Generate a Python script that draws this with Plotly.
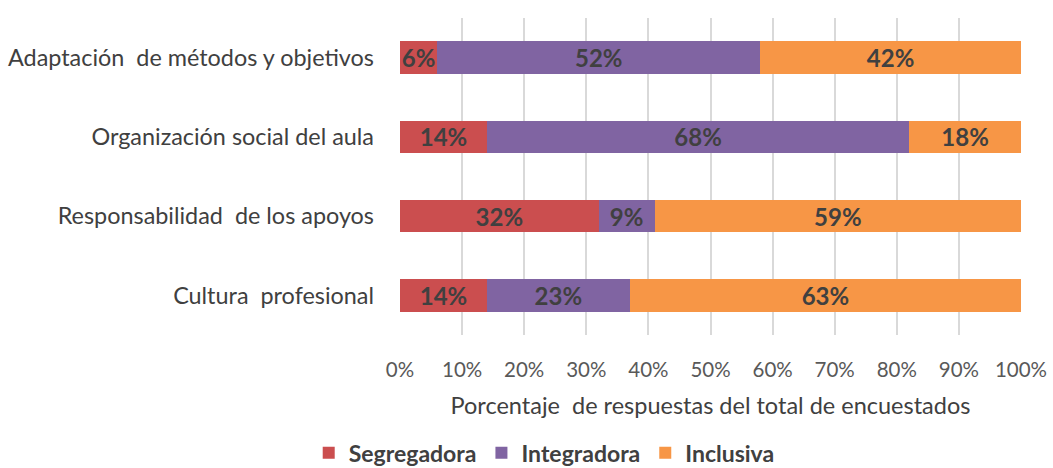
import plotly.graph_objects as go

categories = ["Adaptación  de métodos y objetivos", "Organización social del aula",
              "Responsabilidad  de los apoyos", "Cultura  profesional"]
segregadora = [6, 14, 32, 14]
integradora = [52, 68, 9, 23]
inclusiva = [42, 18, 59, 63]
series_names = ["Segregadora", "Integradora", "Inclusiva"]
colors = ["#CB4E4F", "#8064A2", "#F79646"]
x_ticks = [0, 10, 20, 30, 40, 50, 60, 70, 80, 90, 100]

FONT = "Lato, 'Open Sans', sans-serif"

fig = go.Figure()
for name, vals, col in zip(series_names, [segregadora, integradora, inclusiva], colors):
    fig.add_trace(go.Bar(
        y=categories, x=vals, name=name, orientation="h",
        marker=dict(color=col, line=dict(width=0)),
        text=[f"{v}%" for v in vals], textposition="inside",
        insidetextanchor="middle", constraintext="none",
        textfont=dict(family=FONT, size=24, color="#404040", weight="bold"),
    ))

fig.update_layout(
    barmode="stack", bargap=0.59,
    width=1053, height=468,
    margin=dict(l=400, r=32, t=18, b=133, autoexpand=False),
    paper_bgcolor="white", plot_bgcolor="white",
    font=dict(family=FONT, color="#404040"),
    legend=dict(orientation="h", x=-0.147, xanchor="left", y=-0.372, yanchor="middle",
                font=dict(size=23, color="#404040", weight="bold"),
                itemwidth=30, traceorder="normal", tracegroupgap=0),
    xaxis=dict(range=[0, 100], tickvals=x_ticks, ticktext=[f"{t}%" for t in x_ticks],
               showgrid=True, gridcolor="#D9D9D9", gridwidth=2, zeroline=False,
               automargin=False,
               tickfont=dict(size=20.5, color="#595959"), ticks="", ticklabelstandoff=20,
               title=dict(text="Porcentaje  de respuestas del total de encuestados",
                          font=dict(size=23.5, color="#404040"), standoff=18)),
    yaxis=dict(autorange="reversed", showgrid=False, ticks="", automargin=False,
               tickfont=dict(size=23.4, color="#404040"), ticklabelstandoff=25),
    showlegend=True,
)

fig.write_html("out.html", config={"displayModeBar": False},
               post_script="document.body.style.margin='0';")
